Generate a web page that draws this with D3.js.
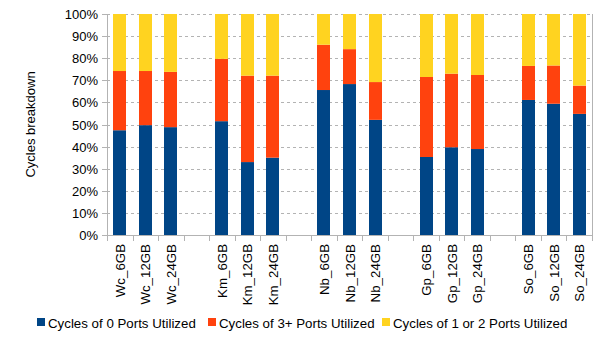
<!DOCTYPE html>
<html lang="en">
<head>
<meta charset="utf-8">
<script src="https://d3js.org/d3.v7.min.js"></script>
<style>
  body { margin: 0; background: #fff; }
  text { font-family: "Liberation Sans", Arial, sans-serif; }
</style>
</head>
<body>
<script>
// data (percent of cycles)
var categories = ["Wc_6GB", "Wc_12GB", "Wc_24GB", "Km_6GB", "Km_12GB", "Km_24GB",
                  "Nb_6GB", "Nb_12GB", "Nb_24GB", "Gp_6GB", "Gp_12GB", "Gp_24GB",
                  "So_6GB", "So_12GB", "So_24GB"];
var zeroPorts   = [47.4, 49.7, 48.8, 51.5, 33.0, 35.0, 65.6, 68.3, 52.1, 35.3, 39.7, 38.9, 61.1, 59.4, 54.8];
var threePlus   = [26.8, 24.5, 25.0, 28.2, 39.1, 37.1, 20.5, 15.8, 17.1, 36.2, 33.3, 33.5, 15.4, 17.3, 12.8];
var oneOrTwo    = [25.8, 25.8, 26.2, 20.3, 27.9, 27.9, 13.9, 15.9, 30.8, 28.5, 27.0, 27.6, 23.5, 23.3, 32.4];
var seriesNames = ["Cycles of 0 Ports Utilized", "Cycles of 3+ Ports Utilized", "Cycles of 1 or 2 Ports Utilized"];
var colors = ["#004586", "#ff420e", "#ffd320"];
var yTicks = [0, 10, 20, 30, 40, 50, 60, 70, 80, 90, 100];

var w = 605, h = 340;
var pLeft = 107, pRight = 592, pTop = 14, pBottom = 235;

var svg = d3.select("body").append("svg").attr("width", w).attr("height", h);

// slots: three bars per group, one empty slot between groups
var slots = [];
categories.forEach(function(c, i) {
  if (i > 0 && i % 3 == 0) slots.push("gap" + i);
  slots.push(c);
});

var x = d3.scaleBand().domain(slots).range([pLeft, pRight]).padding(0);
var y = d3.scaleLinear().domain([0, 100]).range([pBottom, pTop]);

// grid
svg.append("g").selectAll("line").data(yTicks.slice(1)).enter().append("line")
  .attr("x1", pLeft).attr("x2", pRight)
  .attr("y1", function(d) { return Math.round(y(d)) + 0.5; }).attr("y2", function(d) { return Math.round(y(d)) + 0.5; })
  .attr("stroke", "#b3b3b3").attr("stroke-dasharray", "3,3");

var rows = categories.map(function(c, i) {
  return { cat: c, v: [zeroPorts[i], threePlus[i], oneOrTwo[i]] };
});
var stack = d3.stack().keys([0, 1, 2]).value(function(d, k) { return d.v[k]; });
var layers = stack(rows);

var bw = 13;
svg.append("g").selectAll("g").data(layers).enter().append("g")
  .attr("fill", function(d, i) { return colors[i]; })
  .selectAll("rect").data(function(d) { return d; }).enter().append("rect")
  .attr("x", function(d) { return Math.round(x(d.data.cat) + x.bandwidth() / 2 - bw / 2); })
  .attr("width", bw)
  .attr("y", function(d) { return y(Math.min(d[1], 100)); })
  .attr("height", function(d) { return y(d[0]) - y(Math.min(d[1], 100)); });

// axes frame
svg.append("line").attr("x1", pLeft + 0.5).attr("x2", pLeft + 0.5).attr("y1", pTop).attr("y2", pBottom)
  .attr("stroke", "#b3b3b3");
svg.append("line").attr("x1", pRight + 0.5).attr("x2", pRight + 0.5).attr("y1", pTop).attr("y2", pBottom)
  .attr("stroke", "#b3b3b3");
svg.append("line").attr("x1", pLeft - 5).attr("x2", pRight + 1).attr("y1", pBottom + 0.5).attr("y2", pBottom + 0.5)
  .attr("stroke", "#b3b3b3");

// y tick marks + labels
var yg = svg.append("g");
yg.selectAll("line").data(yTicks).enter().append("line")
  .attr("x1", pLeft - 5).attr("x2", pLeft)
  .attr("y1", function(d) { return Math.round(y(d)) + 0.5; }).attr("y2", function(d) { return Math.round(y(d)) + 0.5; })
  .attr("stroke", "#b3b3b3");
yg.selectAll("text").data(yTicks).enter().append("text")
  .attr("x", pLeft - 9).attr("y", function(d) { return y(d) + 5; })
  .attr("text-anchor", "end").attr("font-size", 13).attr("fill", "#000")
  .text(function(d) { return d + "%"; });

// x tick marks at slot boundaries
var bounds = slots.map(function(s) { return x(s); }).concat([pRight]);
svg.append("g").selectAll("line").data(bounds).enter().append("line")
  .attr("x1", function(d) { return Math.round(d) + 0.5; }).attr("x2", function(d) { return Math.round(d) + 0.5; })
  .attr("y1", pBottom).attr("y2", pBottom + 6)
  .attr("stroke", "#b3b3b3");

// x labels
svg.append("g").selectAll("text").data(categories).enter().append("text")
  .attr("transform", function(d) {
    return "translate(" + (x(d) + x.bandwidth() / 2 + 5) + "," + (pBottom + 9) + ") rotate(-90)";
  })
  .attr("text-anchor", "end").attr("font-size", 13.3).attr("fill", "#000")
  .text(function(d) { return d; });

// y title
svg.append("text")
  .attr("transform", "translate(35," + ((pTop + pBottom) / 2) + ") rotate(-90)")
  .attr("text-anchor", "middle").attr("font-size", 13).attr("fill", "#000")
  .text("Cycles breakdown");

// legend
var legX = [37, 208, 382];
var leg = svg.append("g").selectAll("g").data(seriesNames).enter().append("g")
  .attr("transform", function(d, i) { return "translate(" + legX[i] + ",318)"; });
leg.append("rect").attr("width", 8).attr("height", 8)
  .attr("fill", function(d, i) { return colors[i]; });
leg.append("text").attr("x", 11).attr("y", 9.5).attr("font-size", 13.3).attr("fill", "#000")
  .text(function(d) { return d; });
</script>
</body>
</html>
